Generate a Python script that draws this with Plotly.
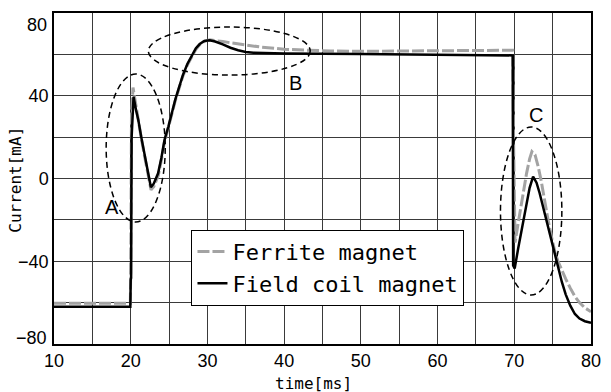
import plotly.graph_objects as go

# ---------------- data ----------------
time_coil = [10.0, 19.95, 20.0, 20.05, 20.12, 20.37, 20.7, 21.0, 21.4, 21.86, 22.3, 22.63,
             23.0, 23.57, 24.0, 24.4, 24.9, 25.3, 25.8, 26.3, 26.8, 27.4, 28.0, 28.5, 29.0,
             29.6, 30.3, 31.0, 32.0, 33.0, 34.0, 35.0, 36.0, 38.0, 40.0, 50.0, 60.0, 69.8,
             69.85, 70.05, 70.5, 71.0, 71.5, 72.0, 72.45, 72.9, 73.3, 73.7, 74.1, 74.6,
             75.2, 75.7, 76.2, 76.7, 77.3, 77.9, 78.5, 79.2, 80.0]
current_coil = [-62.0, -62.0, -49.0, -48.0, 20.0, 39.5, 33.0, 28.0, 19.5, 10.6, 2.0, -4.2,
                -2.5, 2.5, 10.0, 18.6, 25.0, 31.0, 38.0, 44.0, 50.0, 55.5, 60.0, 63.0, 65.0,
                66.5, 66.8, 66.2, 64.8, 63.2, 62.0, 61.2, 60.8, 60.5, 60.4, 60.2, 59.8, 59.5,
                -42.0, -43.5, -34.0, -24.0, -14.0, -4.5, 0.9, -2.0, -7.0, -13.0, -19.0, -27.0,
                -35.5, -43.0, -50.0, -56.0, -61.5, -65.5, -67.7, -69.0, -69.7]

time_ferrite = [10.0, 19.95, 20.0, 20.1, 20.3, 20.6, 21.0, 21.4, 21.9, 22.3, 22.65, 23.0,
                23.6, 24.0, 24.4, 24.9, 25.3, 25.8, 26.3, 26.8, 27.4, 28.0, 28.5, 29.0, 29.6,
                30.3, 31.0, 32.0, 33.0, 35.0, 37.0, 40.0, 43.0, 46.0, 50.0, 55.0, 60.0, 65.0,
                69.8, 69.9, 70.1, 70.4, 70.8, 71.2, 71.6, 72.0, 72.3, 72.7, 73.1, 73.5, 73.9,
                74.4, 74.9, 75.3, 75.7, 76.2, 76.7, 77.3, 77.9, 78.5, 79.2, 80.0]
current_ferrite = [-60.3, -60.3, -45.0, 30.0, 44.0, 37.0, 28.0, 19.0, 9.0, 1.0, -5.5, -4.0,
                   1.5, 9.0, 17.5, 24.5, 30.5, 37.5, 43.5, 49.5, 55.0, 59.5, 62.5, 64.8, 66.3,
                   67.0, 66.8, 66.2, 65.6, 64.5, 63.5, 62.5, 61.9, 61.6, 61.5, 61.6, 61.8, 61.8,
                   62.0, 20.0, -31.0, -24.0, -15.0, -6.0, 2.5, 9.5, 13.0, 11.5, 6.0, -1.0, -10.0,
                   -20.0, -29.0, -35.5, -40.0, -44.5, -48.5, -53.0, -57.0, -60.0, -62.5, -64.4]

series_names = ["Ferrite magnet", "Field coil magnet"]

x_tick_vals = [10, 20, 30, 40, 50, 60, 70, 80]
x_tick_text = ["10", "20", "30", "40", "50", "60", "70", "80"]
y_tick_vals = [-40, 0, 40]
y_tick_text = ["\u221240", "0", "40"]
y_end_vals = [80, -80]
y_end_text = ["80", "\u221280"]

# dashed ellipses marking regions A, B, C
ellipse_names = ["A", "B", "C"]
ellipse_x0 = [16.8, 22.3, 68.2]
ellipse_x1 = [24.5, 43.4, 76.2]
ellipse_y0 = [-21.0, 50.0, -56.3]
ellipse_y1 = [50.5, 73.2, 24.9]
label_x = [17.5, 41.5, 72.8]
label_y = [-13.8, 46.0, 30.8]

# ---------------- figure ----------------
fig = go.Figure()
fig.add_trace(go.Scatter(
    x=time_ferrite, y=current_ferrite, mode="lines", name=series_names[0],
    line=dict(color="#a3a3a3", width=3, dash="12px,3px")))
fig.add_trace(go.Scatter(
    x=time_coil, y=current_coil, mode="lines", name=series_names[1],
    line=dict(color="black", width=2.5)))

grid_col = "#3a3a3a"
for i in range(len(ellipse_names)):
    fig.add_shape(type="circle", xref="x", yref="y",
                  x0=ellipse_x0[i], x1=ellipse_x1[i], y0=ellipse_y0[i], y1=ellipse_y1[i],
                  line=dict(color="black", width=1.5, dash="6px,4px"), layer="above")
    fig.add_annotation(x=label_x[i], y=label_y[i], xref="x", yref="y",
                       text=ellipse_names[i], showarrow=False,
                       font=dict(family="Liberation Sans", size=20, color="black"))

shifts = [-12, 6.5]
for v, t, s in zip(y_end_vals, y_end_text, shifts):
    fig.add_annotation(x=0, xref="paper", y=v, yref="y", text=t, showarrow=False,
                       xanchor="right", yanchor="middle", xshift=-5, yshift=s,
                       font=dict(family="Liberation Sans", size=18, color="black"))

fig.add_annotation(x=-0.0713, xref="paper", y=0.4955, yref="paper", text="Current[mA]",
                   textangle=-90, showarrow=False, xanchor="center", yanchor="middle",
                   font=dict(family="DejaVu Sans Mono", size=16, color="black"))
fig.add_annotation(x=0.4826, xref="paper", y=-0.118, yref="paper", text="time[ms]",
                   showarrow=False, xanchor="center", yanchor="middle",
                   font=dict(family="DejaVu Sans Mono", size=16, color="black"))

fig.update_layout(
    width=611, height=392,
    margin=dict(l=54, r=10, t=13, b=48),
    paper_bgcolor="white", plot_bgcolor="white",
    showlegend=True,
    legend=dict(x=0.256, y=0.345, xanchor="left", yanchor="top",
                bgcolor="white", bordercolor="black", borderwidth=1,
                font=dict(family="DejaVu Sans Mono", size=22, color="black"),
                tracegroupgap=0, itemwidth=30),
    xaxis=dict(range=[10, 80], tickmode="array", tickvals=x_tick_vals, ticktext=x_tick_text,
               showgrid=True, gridcolor=grid_col, gridwidth=1,
               minor=dict(tickmode="linear", tick0=10, dtick=5, showgrid=True,
                          gridcolor=grid_col, gridwidth=1),
               showline=True, mirror=True, linecolor="black", linewidth=1.5,
               zeroline=False, ticks="",
               tickfont=dict(family="Liberation Sans", size=18, color="black")),
    yaxis=dict(range=[-80, 80], tickmode="array", tickvals=y_tick_vals, ticktext=y_tick_text,
               showgrid=True, gridcolor=grid_col, gridwidth=1,
               minor=dict(tickmode="linear", tick0=-80, dtick=20, showgrid=True,
                          gridcolor=grid_col, gridwidth=1),
               showline=True, mirror=True, linecolor="black", linewidth=1.5,
               zeroline=False, ticks="",
               tickfont=dict(family="Liberation Sans", size=18, color="black")),
)

fig.write_html("out.html")
